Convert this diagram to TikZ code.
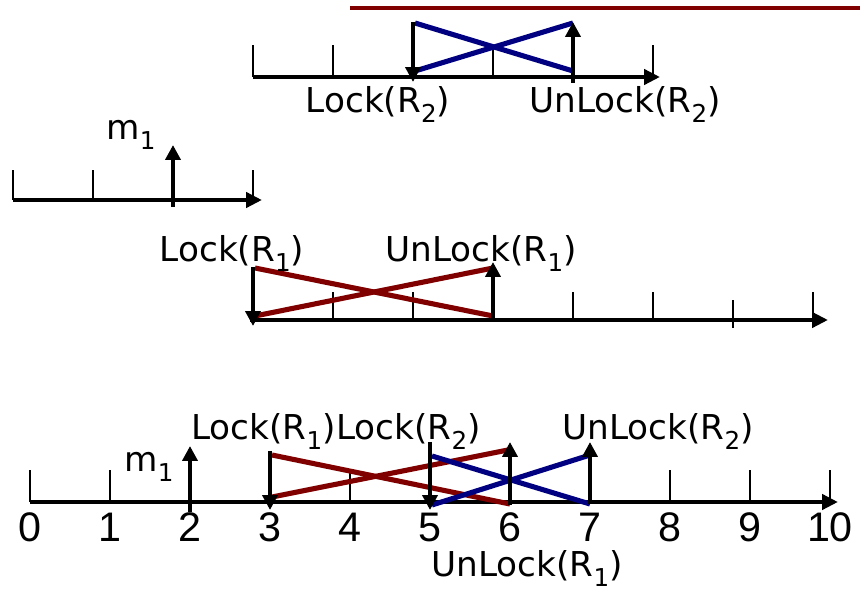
\documentclass[tikz,border=0pt]{standalone}
\usepackage{fontspec}
\setmainfont{DejaVu Sans}
\newfontfamily\numfont{Liberation Sans}
\usetikzlibrary{arrows.meta}
\definecolor{lockred}{RGB}{128,0,0}
\definecolor{lockblue}{RGB}{0,0,128}
\newcommand{\res}[1]{R\raisebox{-0.5ex}{\fontsize{14}{14}\selectfont #1}}

\tikzset{
  axis/.style={line width=2.5pt, -{Triangle[length=9pt,width=8.5pt]}},
  tick/.style={line width=0.9pt},
  event/.style={line width=2.4pt, -{Triangle[length=8.5pt,width=8.5pt]}},
  hold/.style={line width=2.9pt},
  lbl/.style={font=\fontsize{19.5}{21}\selectfont, inner sep=0pt, anchor=base},
  num/.style={font=\numfont\fontsize{23.5}{24}\selectfont, inner sep=0pt, anchor=base},
}

\begin{document}
\begin{tikzpicture}[x=0.02cm, y=-0.02cm]
\useasboundingbox (0,0) rectangle (860,591);

% bar along the top
\coordinate (bar0) at (350,8);
\coordinate (bar1) at (860,8);
\draw[lockred, line width=2.4pt] (bar0) -- (bar1);

% --- R2 on its own
\coordinate (a0) at (253,77);
\coordinate (a1) at (660,77);
\foreach \x/\h in {253/45,333/45,493/45,653/45}
  \draw[tick] (\x,77) -- (\x,\h);
\draw[axis] (a0) -- (a1);
\coordinate (al) at (413,22);  \coordinate (alb) at (413,82);
\coordinate (au) at (573,22);  \coordinate (aub) at (573,83);
\draw[lockblue, hold] (415,23) -- (573,71);
\draw[lockblue, hold] (415,71) -- (573,23);
\draw[event] (al) -- (alb);
\draw[event] (aub) -- (au);
\node[lbl] (alock) at (378,113) {Lock(\res2)};
\node[lbl] (aunlock) at (625,113) {UnLock(\res2)};

% --- m1 on its own
\coordinate (b0) at (13,200);
\coordinate (b1) at (262,200);
\foreach \x in {13,93,253}
  \draw[tick] (\x,200) -- (\x,170);
\draw[axis] (b0) -- (b1);
\coordinate (bm) at (173,145);  \coordinate (bmb) at (173,207);
\draw[event] (bmb) -- (bm);
\node[lbl] (bmsg) at (131,140) {m\raisebox{-0.5ex}{\fontsize{14}{14}\selectfont 1}};

% --- R1 on its own
\coordinate (c0) at (250,320);
\coordinate (c1) at (828,320);
\foreach \x/\h/\d in {333/292/320,413/292/320,573/292/320,653/292/320,733/300/328,813/292/320}
  \draw[tick] (\x,\d) -- (\x,\h);
\draw[axis] (c0) -- (c1);
\coordinate (cl) at (253,267);  \coordinate (clb) at (253,326);
\coordinate (cu) at (493,262);  \coordinate (cub) at (493,322);
\draw[lockred, hold] (255,268) -- (493,316);
\draw[lockred, hold] (255,316) -- (493,268);
\draw[event] (cl) -- (clb);
\draw[event] (cub) -- (cu);
\node[lbl] (clock) at (232,262) {Lock(\res1)};
\node[lbl] (cunlock) at (481,262) {UnLock(\res1)};

% --- merged schedule
\coordinate (d0) at (30,502);
\coordinate (d1) at (838,502);
\foreach \n in {0,...,10}{
  \draw[tick] (30+80*\n,502) -- (30+80*\n,470);
  \node[num] (n\n) at (30+80*\n,542) {\n};
}
\draw[axis] (d0) -- (d1);
\coordinate (dm) at (190,446);   \coordinate (dmb) at (190,512);
\coordinate (dl1) at (270,451);  \coordinate (dl1b) at (270,510);
\coordinate (du1) at (510,442);  \coordinate (du1b) at (510,505);
\coordinate (dl2) at (430,442);  \coordinate (dl2b) at (430,510);
\coordinate (du2) at (590,442);  \coordinate (du2b) at (590,504);
\draw[lockred, hold] (272,455) -- (510,504);
\draw[lockred, hold] (272,497) -- (508,450);
\draw[lockblue, hold] (432,456) -- (590,504);
\draw[lockblue, hold] (432,505) -- (590,455);
\draw[event] (dmb) -- (dm);
\draw[event] (dl1) -- (dl1b);
\draw[event] (dl2) -- (dl2b);
\draw[event] (du1b) -- (du1);
\draw[event] (du2b) -- (du2);
\node[lbl] (dmsg) at (149,472) {m\raisebox{-0.5ex}{\fontsize{14}{14}\selectfont 1}};
\node[lbl, anchor=base east] (dlock1) at (336,440) {Lock(\res1)};
\node[lbl, anchor=base west] (dlock2) at (336,440) {Lock(\res2)};
\node[lbl] (dunlock2) at (658,440) {UnLock(\res2)};
\node[lbl] (dunlock1) at (527,577) {UnLock(\res1)};
\end{tikzpicture}
\end{document}
